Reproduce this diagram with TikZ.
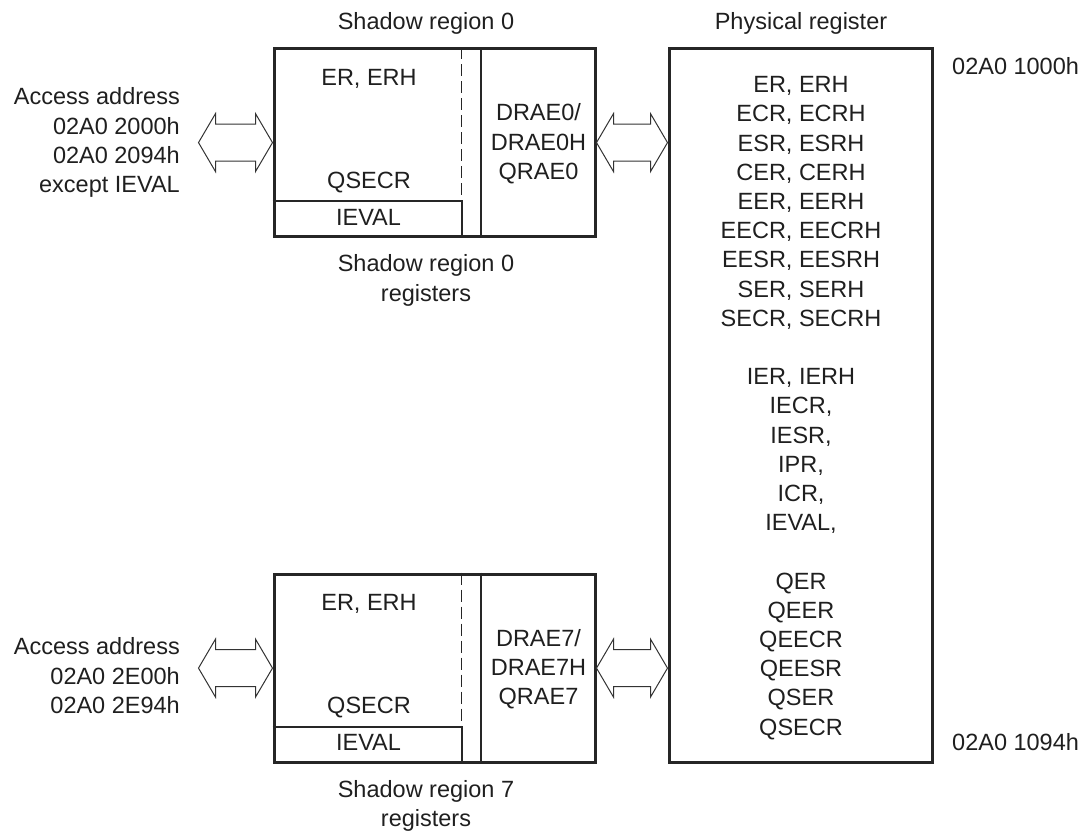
\documentclass[tikz,border=0pt]{standalone}
\usepackage{fontspec}
\setmainfont{Liberation Sans}
\usetikzlibrary{calc}

\tikzset{
  regbox/.style={draw=black!85, line width=3pt, inner sep=0pt},
  divider/.style={draw=black!85, line width=2pt},
  split/.style={draw=black!85, line width=1.3pt, dash pattern=on 12pt off 5pt},
  txt/.style={inner sep=0pt, text=black!88, font=\fontsize{23.5}{29.2}\selectfont},
  lbl/.style={txt, text height=16.8pt, text depth=0pt},
  lines/.style={txt, align=center, anchor=north},
  bus/.style={draw=black!80, fill=white, line width=1pt, line join=miter,
    to path={let \p1=(\tikztostart), \p2=(\tikztotarget) in
      -- (\x1+17pt,\y1-29pt) -- (\x1+17pt,\y1-18.5pt) -- (\x2-17pt,\y1-18.5pt)
      -- (\x2-17pt,\y1-29pt) -- (\x2,\y1) -- (\x2-17pt,\y1+29pt)
      -- (\x2-17pt,\y1+18.5pt) -- (\x1+17pt,\y1+18.5pt) -- (\x1+17pt,\y1+29pt) -- cycle}},
}

\begin{document}
\begin{tikzpicture}[x=1pt, y=-1pt]
  \useasboundingbox (0,0) rectangle (1084,830);

  % physical register file
  \node[regbox, minimum width=263pt, minimum height=713.4pt] (reg) at (800.5,405.4) {};
  \node[lbl] (regtitle) at (801,21) {Physical register};
  \node[lbl, anchor=west] (regfirst) at (952,66) {02A0 1000h};
  \node[lbl, anchor=west] (reglast) at (952,742) {02A0 1094h};
  \node[lines] (reglist) at (801,76.3) {ER, ERH\\ECR, ECRH\\ESR, ESRH\\CER, CERH\\EER, EERH\\
    EECR, EECRH\\EESR, EESRH\\SER, SERH\\SECR, SECRH\\[29.2pt]
    IER, IERH\\IECR,\\IESR,\\IPR,\\ICR,\\IEVAL,\\[29.2pt]
    QER\\QEER\\QEECR\\QEESR\\QSER\\QSECR};

  % shadow region 0
  \node[regbox, minimum width=321pt, minimum height=187.8pt] (sh0) at (434.5,142.6) {};
  \coordinate (cut0) at ($(sh0.south west)+(0,-37)$);
  \coordinate (dash0) at ($(sh0.north west)+(189,0)$);
  \draw[divider] (cut0) -- (cut0 -| dash0) -- (dash0 |- sh0.south);
  \draw[split] (dash0) -- (cut0 -| dash0);
  \draw[divider] ($(sh0.north west)+(208,0)$) -- ($(sh0.south west)+(208,0)$);
  \node[lbl] (title0) at (426,21) {Shadow region 0};
  \node[lbl] (er0) at (369,77) {ER, ERH};
  \node[lbl] (qsecr0) at (369,180) {QSECR};
  \node[lbl] (ieval0) at (368.5,217) {IEVAL};
  \node[lines] (drae0) at (538.5,103.6) {DRAE0/\\DRAE0H\\QRAE0};
  \node[lines] (cap0) at (426,254.6) {Shadow region 0\\registers};
  \node[lines, align=right, anchor=north east] (addr0) at (180,87.6)
    {Access address\\02A0 2000h\\02A0 2094h\\except IEVAL};
  \coordinate (in0) at ($(sh0.west)+(-74,0)$);
  \draw[bus] (in0) to (sh0.west);
  \draw[bus] (sh0.east) to (sh0.east -| reg.west);

  % shadow region 7
  \begin{scope}[yshift=-525.5pt]
    \node[regbox, minimum width=321pt, minimum height=187.8pt] (sh7) at (434.5,142.6) {};
    \coordinate (cut7) at ($(sh7.south west)+(0,-37)$);
    \coordinate (dash7) at ($(sh7.north west)+(189,0)$);
    \draw[divider] (cut7) -- (cut7 -| dash7) -- (dash7 |- sh7.south);
    \draw[split] (dash7) -- (cut7 -| dash7);
    \draw[divider] ($(sh7.north west)+(208,0)$) -- ($(sh7.south west)+(208,0)$);
    \node[lbl] (er7) at (369,77) {ER, ERH};
    \node[lbl] (qsecr7) at (369,180) {QSECR};
    \node[lbl] (ieval7) at (368.5,217) {IEVAL};
    \node[lines] (drae7) at (538.5,103.6) {DRAE7/\\DRAE7H\\QRAE7};
    \node[lines] (cap7) at (426,254.6) {Shadow region 7\\registers};
    \node[lines, align=right, anchor=north east] (addr7) at (180,112.1)
      {Access address\\02A0 2E00h\\02A0 2E94h};
    \coordinate (in7) at ($(sh7.west)+(-74,0)$);
    \draw[bus] (in7) to (sh7.west);
    \draw[bus] (sh7.east) to (sh7.east -| reg.west);
  \end{scope}
\end{tikzpicture}
\end{document}
